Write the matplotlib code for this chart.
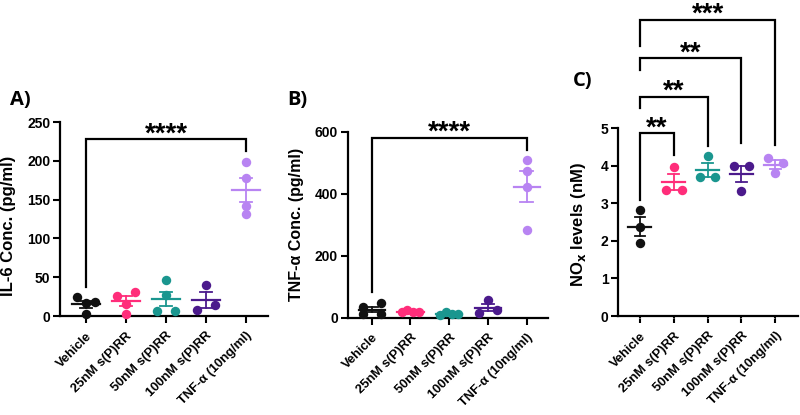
import numpy as np
import matplotlib
matplotlib.use("Agg")
import matplotlib.pyplot as plt

plt.rcParams['font.family'] = ['Liberation Sans', 'DejaVu Sans']

categories = ["Vehicle", "25nM s(P)RR", "50nM s(P)RR", "100nM s(P)RR", "TNF-α (10ng/ml)"]
colors = ["#111111", "#FF2D7A", "#1A968F", "#4B1A8C", "#B884F2"]

il6 = [
    [24, 17, 18, 2],
    [26, 31, 16, 3],
    [46, 7, 7, 27],
    [40.5, 8, 14],
    [198, 178, 142, 131],
]
tnf = [
    [12, 33, 46, 12],
    [18, 25, 20, 17],
    [9, 19, 12, 13],
    [16, 57, 25],
    [510, 474, 422, 282],
]
nox = [
    [2.83, 2.38, 1.94],
    [3.98, 3.36, 3.36],
    [4.26, 3.69, 3.69],
    [4.0, 4.0, 3.34],
    [4.2, 4.08, 3.82],
]

yticks_a = [0, 50, 100, 150, 200, 250]
yticks_b = [0, 200, 400, 600]
yticks_c = [0, 1, 2, 3, 4, 5]

W, H = 800, 415
fig = plt.figure(figsize=(8, 4.15), dpi=100)


def ax_at(l, r, b, t):
    return fig.add_axes([l / W, (H - b) / H, (r - l) / W, (b - t) / H])


axA = ax_at(60, 268, 316, 122)
axB = ax_at(347.7, 548, 317.7, 131.7)
axC = ax_at(618.3, 798, 316, 128.3)


def style(ax, ylim, yticks, xlim):
    ax.set_xlim(*xlim)
    ax.set_ylim(*ylim)
    ax.set_yticks(yticks)
    ax.set_xticks(range(len(categories)))
    ax.set_xticklabels(categories, rotation=45, ha='right', va='top',
                       rotation_mode='anchor', fontsize=9.3, fontweight='bold')
    for s in ['top', 'right']:
        ax.spines[s].set_visible(False)
    for s in ['left', 'bottom']:
        ax.spines[s].set_linewidth(1.6)
    ax.tick_params(axis='both', direction='out', length=5, width=1.5, labelsize=10)
    ax.tick_params(axis='x', labelsize=9.3, pad=5)
    ax.tick_params(axis='y', pad=2)
    for lab in ax.get_yticklabels():
        lab.set_fontweight('bold')
    ax.patch.set_alpha(0)


def row_offsets(ax, vals, thresh_px=7.5, half=0.23):
    # group points into horizontal rows (Prism-like scatter), spread each row
    ys = [ax.transData.transform((0, v))[1] for v in vals]
    order = sorted(range(len(vals)), key=lambda k: -vals[k])
    rows = []
    for k in order:
        if rows and abs(ys[rows[-1][0]] - ys[k]) < thresh_px:
            rows[-1].append(k)
        else:
            rows.append([k])
    offs = [0.0] * len(vals)
    for r in rows:
        r = sorted(r)
        if len(r) > 1:
            for j, o in zip(r, np.linspace(-half, half, len(r))):
                offs[j] = o
    return offs


def draw(ax, data):
    fig.canvas.draw()
    for i, vals in enumerate(data):
        vals = np.array(vals, float)
        offs = row_offsets(ax, list(vals))
        ax.plot(i + np.array(offs), vals, 'o', color=colors[i], ms=6.8, mec='none',
                zorder=3, clip_on=False)
        m = vals.mean()
        sem = vals.std(ddof=1) / np.sqrt(len(vals))
        ax.plot([i - 0.34, i + 0.34], [m, m], color=colors[i], lw=1.6, zorder=4)
        ax.plot([i, i], [m - sem, m + sem], color=colors[i], lw=1.3, zorder=4)
        for y in (m - sem, m + sem):
            ax.plot([i - 0.16, i + 0.16], [y, y], color=colors[i], lw=1.3, zorder=4)


def bracket(ax, x1, x2, y, yl, yr, text):
    ax.plot([x1, x1, x2, x2], [yl, y, y, yr], color='black', lw=1.6, clip_on=False,
            solid_joinstyle='miter')
    ax.annotate(text, xy=((x1 + x2) / 2, y), xytext=(0, -1.5), textcoords='offset points',
                ha='center', va='baseline', fontsize=20, fontweight='bold',
                annotation_clip=False)


style(axA, (0, 250), yticks_a, (-0.65, 4.55))
style(axB, (0, 600), yticks_b, (-0.62, 4.55))
style(axC, (0, 5), yticks_c, (-0.64, 4.67))

draw(axA, il6)
draw(axB, tnf)
draw(axC, nox)

# dotted look on panel C baseline
axC.plot([-0.64, 4.67], [-0.04, -0.04], color='white', lw=0.6, ls=(0, (1, 1.2)),
         clip_on=False, zorder=5)

fig.text(9 / W, (H - 226) / H, "IL-6 Conc. (pg/ml)", rotation=90, ha='center', va='center',
         fontsize=12, fontweight='bold')
fig.text(297 / W, (H - 224) / H, "TNF-α Conc. (pg/ml)", rotation=90, ha='center',
         va='center', fontsize=11.5, fontweight='bold')
fig.text(579 / W, (H - 225) / H, r"NO$_\mathbf{x}$ levels (nM)", rotation=90, ha='center',
         va='center', fontsize=12, fontweight='bold')

bracket(axA, 0, 4, 228, 38, 213, "****")
bracket(axB, 0, 4, 580, 82, 540, "****")
bracket(axC, 0, 1, 4.87, 3.09, 4.29, "**")
bracket(axC, 0, 2, 5.84, 5.53, 4.54, "**")
bracket(axC, 0, 3, 6.86, 6.55, 4.6, "**")
bracket(axC, 0, 4, 7.89, 7.18, 4.56, "***")

for x, y, t in [(10, 100, "A)"), (287, 100, "B)"), (573, 81, "C)")]:
    fig.text(x / W, (H - y) / H, t, fontsize=14.5, fontweight='bold', va='center',
             family=['Open Sans', 'DejaVu Sans'])

fig.savefig("out.png", dpi=100)
